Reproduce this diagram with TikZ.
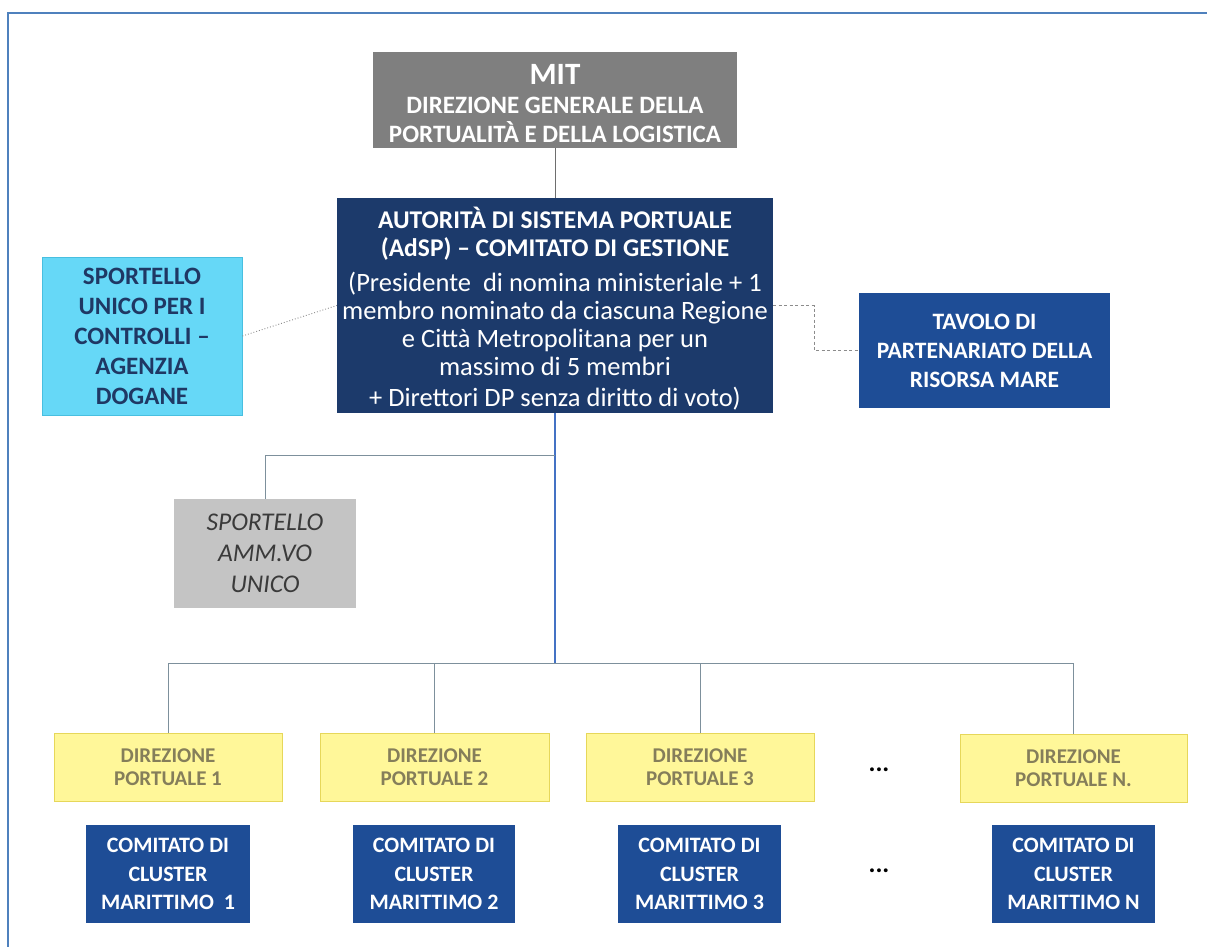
\documentclass[tikz,border=0pt]{standalone}
\usepackage{fontspec}
\setmainfont{Carlito}
\definecolor{frameblue}{HTML}{4F81BD}
\definecolor{mitgray}{HTML}{7F7F7F}
\definecolor{adspnavy}{HTML}{1C3A6B}
\definecolor{midblue}{HTML}{1E4D96}
\definecolor{cyanfill}{HTML}{66D8F7}
\definecolor{cyandraw}{HTML}{48BFE0}
\definecolor{cyantext}{HTML}{1F3864}
\definecolor{lgray}{HTML}{C4C4C4}
\definecolor{ltext}{HTML}{3A3A3A}
\definecolor{yfill}{HTML}{FFF799}
\definecolor{ydraw}{HTML}{E6D75A}
\definecolor{ytext}{HTML}{857E5A}
\definecolor{linegray}{HTML}{6E6E6E}
\definecolor{busgray}{HTML}{7D909C}
\definecolor{linkblue}{HTML}{4472C4}
\definecolor{dashgray}{HTML}{8C8C8C}
\tikzset{
  box/.style={rectangle, inner sep=0pt, align=center},
  mitbox/.style={box, fill=mitgray, text=white, font=\bfseries\fontsize{25}{29}\selectfont},
  adspbox/.style={box, fill=adspnavy, text=white, font=\fontsize{26.5}{28}\selectfont},
  cyanbox/.style={box, fill=cyanfill, draw=cyandraw, line width=0.8pt, text=cyantext, font=\bfseries\fontsize{25}{30}\selectfont},
  tavbox/.style={box, fill=midblue, text=white, font=\bfseries\fontsize{23.5}{29}\selectfont},
  graybox/.style={box, fill=lgray, text=ltext, font=\itshape\fontsize{25.5}{31}\selectfont},
  ybox/.style={box, fill=yfill, draw=ydraw, line width=0.8pt, text=ytext, font=\bfseries\fontsize{21}{23}\selectfont, minimum height=68pt},
  cmbox/.style={box, fill=midblue, text=white, font=\bfseries\fontsize{22}{28.5}\selectfont, minimum height=98pt},
  dotsnode/.style={inner sep=0pt, font=\bfseries\fontsize{26}{26}\selectfont},
  conn/.style={draw=linegray, line width=0.9pt},
  busline/.style={draw=busgray, line width=1pt},
  blueline/.style={draw=linkblue, line width=1.2pt},
  dotline/.style={draw=dashgray, line width=0.9pt, dotted},
  dashline/.style={draw=dashgray, line width=0.9pt, dash pattern=on 3pt off 2.5pt},
}
\begin{document}
\begin{tikzpicture}[x=1pt, y=-1pt]
\useasboundingbox (0,0) rectangle (1207,947);
\fill[white] (0,0) rectangle (1207,947);
% frame
\draw[frameblue, line width=2.2pt] (8,947) -- (8,13) -- (1207,13);

% nodes
\node[mitbox, minimum width=364pt, minimum height=96pt] (mit) at (555,100)
  {\rule{0pt}{27pt}{\fontsize{31}{31}\selectfont MIT}\\DIREZIONE GENERALE DELLA\\PORTUALITÀ E DELLA LOGISTICA};
\node[adspbox, minimum width=436pt, minimum height=215pt] (adsp) at (555,305.5)
  {\rule{0pt}{27pt}{\bfseries\fontsize{25.5}{27}\selectfont AUTORITÀ DI SISTEMA PORTUALE}\\{\bfseries\fontsize{25.5}{27}\selectfont (AdSP) – COMITATO DI GESTIONE}\\[7pt]
   (Presidente \ di nomina ministeriale + 1\\membro nominato da ciascuna Regione\\e Città Metropolitana per un\\massimo di 5 membri\\[3pt]+ Direttori DP senza diritto di voto)};
\node[cyanbox, minimum width=200pt, minimum height=158pt] (suc) at (142,336)
  {SPORTELLO\\UNICO PER I\\CONTROLLI –\\AGENZIA\\DOGANE};
\node[tavbox, minimum width=251pt, minimum height=115pt] (tav) at (984.5,350.5)
  {TAVOLO DI\\PARTENARIATO DELLA\\RISORSA MARE};
\node[graybox, minimum width=182pt, minimum height=109pt] (sam) at (265,553.5)
  {SPORTELLO\\AMM.VO\\UNICO};

\node[ybox, minimum width=228pt] (dp1) at (168,767) {DIREZIONE\\PORTUALE 1};
\node[ybox, minimum width=229pt] (dp2) at (434.5,767) {DIREZIONE\\PORTUALE 2};
\node[ybox, minimum width=228pt] (dp3) at (700,767) {DIREZIONE\\PORTUALE 3};
\node[ybox, minimum width=227pt] (dpn) at (1073.5,768) {DIREZIONE\\PORTUALE N.};

\node[cmbox, minimum width=164pt] (cm1) at (168,874) {COMITATO DI\\CLUSTER\\MARITTIMO \ 1};
\node[cmbox, minimum width=162pt] (cm2) at (434,874) {COMITATO DI\\CLUSTER\\MARITTIMO 2};
\node[cmbox, minimum width=163pt] (cm3) at (699.5,874) {COMITATO DI\\CLUSTER\\MARITTIMO 3};
\node[cmbox, minimum width=163pt] (cmn) at (1073.5,874) {COMITATO DI\\CLUSTER\\MARITTIMO N};

\node[dotsnode] (dotsa) at (879,770) {...};
\node[dotsnode] (dotsb) at (879,871) {...};

% connectors
\draw[conn] (mit.south) -- (adsp.north);
\coordinate (j1) at (555,455);
\coordinate (bus) at (555,663);
\draw[blueline] (adsp.south) -- (bus);
\draw[busline] (j1) -| (sam.north);
\draw[busline] (bus) -| (dp1.north);
\draw[busline] (bus) -| (dp2.north);
\draw[busline] (bus) -| (dp3.north);
\draw[busline] (bus) -| (dpn.north);
\draw[dotline] (suc.east) -- (adsp.west);
\draw[dashline] (adsp.east) -- ++(41,0) |- (tav.west);
\end{tikzpicture}
\end{document}
